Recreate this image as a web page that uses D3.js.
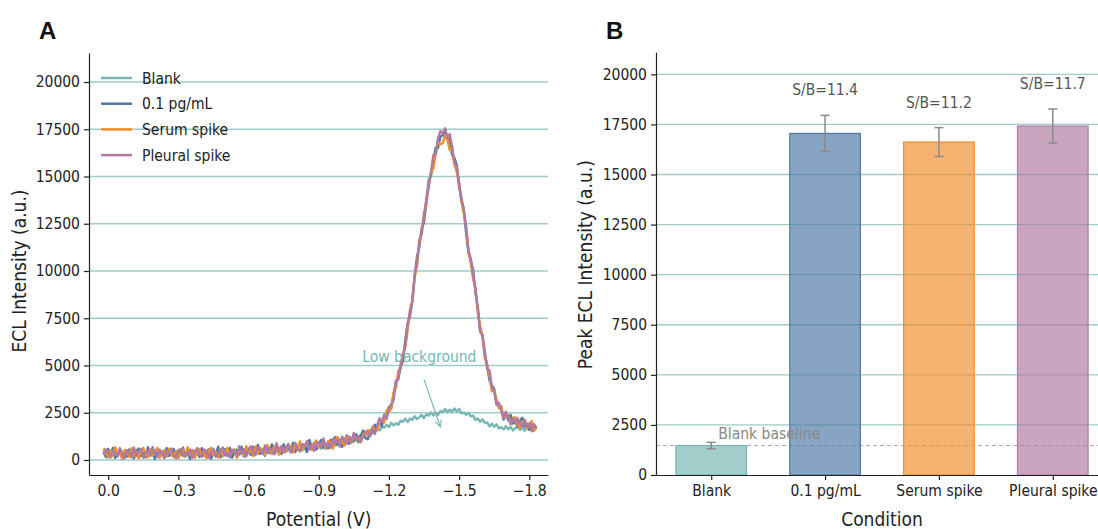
<!DOCTYPE html>
<html lang="en">
<head>
<meta charset="UTF-8">
<title>ECL peaks</title>
<style>
    body { margin: 0; background: #fff; }
    text { font-family: "DejaVu Sans Condensed", "DejaVu Sans", sans-serif; fill: #222; }
    .tick text { font-size: 15.5px; }
    .domain, .tick line { stroke: #222; stroke-width: 1.2px; }
    .grid { stroke: #76b7b2; stroke-width: 1.3px; stroke-opacity: 0.7; }
    .panel-letter { font-family: "Liberation Sans", Arial, sans-serif; font-weight: bold; font-size: 24px; fill: #111; }
    .axis-label { font-size: 19px; }
    .small { font-size: 15.5px; }
</style>
</head>
<body>
<svg id="chart" width="1098" height="529"></svg>
<script src="https://cdn.jsdelivr.net/npm/d3@7"></script>
<script>
// ---- panel A: ECL vs potential ----
const potential = [0.02,0.01,0,-0.01,-0.02,-0.03,-0.04,-0.05,-0.06,-0.07,
  -0.08,-0.09,-0.1,-0.11,-0.12,-0.13,-0.14,-0.15,-0.16,-0.17,
  -0.18,-0.19,-0.2,-0.21,-0.22,-0.23,-0.24,-0.25,-0.26,-0.27,
  -0.28,-0.29,-0.3,-0.31,-0.32,-0.33,-0.34,-0.35,-0.36,-0.37,
  -0.38,-0.39,-0.4,-0.41,-0.42,-0.43,-0.44,-0.45,-0.46,-0.47,
  -0.48,-0.49,-0.5,-0.51,-0.52,-0.53,-0.54,-0.55,-0.56,-0.57,
  -0.58,-0.59,-0.6,-0.61,-0.62,-0.63,-0.64,-0.65,-0.66,-0.67,
  -0.68,-0.69,-0.7,-0.71,-0.72,-0.73,-0.74,-0.75,-0.76,-0.77,
  -0.78,-0.79,-0.8,-0.81,-0.82,-0.83,-0.84,-0.85,-0.86,-0.87,
  -0.88,-0.89,-0.9,-0.91,-0.92,-0.93,-0.94,-0.95,-0.96,-0.97,
  -0.98,-0.99,-1,-1.01,-1.02,-1.03,-1.04,-1.05,-1.06,-1.07,
  -1.08,-1.09,-1.1,-1.11,-1.12,-1.13,-1.14,-1.15,-1.16,-1.17,
  -1.18,-1.19,-1.2,-1.21,-1.22,-1.23,-1.24,-1.25,-1.26,-1.27,
  -1.28,-1.29,-1.3,-1.31,-1.32,-1.33,-1.34,-1.35,-1.36,-1.37,
  -1.38,-1.39,-1.4,-1.41,-1.42,-1.43,-1.44,-1.45,-1.46,-1.47,
  -1.48,-1.49,-1.5,-1.51,-1.52,-1.53,-1.54,-1.55,-1.56,-1.57,
  -1.58,-1.59,-1.6,-1.61,-1.62,-1.63,-1.64,-1.65,-1.66,-1.67,
  -1.68,-1.69,-1.7,-1.71,-1.72,-1.73,-1.74,-1.75,-1.76,-1.77,
  -1.78,-1.79,-1.8,-1.81,-1.82,-1.83];

const blankTrace = [380,240,410,200,330,420,210,350,270,400,
  180,370,260,390,220,320,410,230,340,190,
  360,280,400,210,430,250,310,180,380,260,
  390,200,340,420,230,290,400,220,360,170,
  320,410,240,370,200,350,270,420,210,330,
  230,400,260,388,206,384,312,470,268,366,
  454,312,500,288,437,375,524,332,501,389,
  548,346,495,553,412,610,459,567,416,544,
  453,651,520,650,450,630,580,700,550,690,
  530,680,770,590,700,660,820,640,830,770,
  920,760,880,770,1010,930,1110,960,1150,1140,
  1320,1210,1420,1320,1500,1630,1520,1680,1570,1770,
  1710,1870,1730,1970,1830,1940,1860,2080,2020,2180,
  2010,2190,2130,2320,2170,2270,2380,2210,2420,2350,
  2510,2360,2510,2380,2590,2540,2700,2540,2660,2540,
  2730,2570,2710,2460,2520,2390,2500,2310,2350,2110,
  2200,2020,2150,1960,1990,1780,1920,1760,1890,1670,
  1750,1610,1790,1630,1750,1560,1690,1750,1600,1690,
  1550,1720,1610,1740,1560,1670];

const pg01Trace = [450,150,590,240,640,110,370,510,70,420,
  190,560,300,80,480,610,210,390,130,670,
  250,470,60,540,290,430,140,630,220,350,
  580,100,500,270,650,180,410,50,520,310,
  440,160,620,230,360,570,70,460,280,700,
  140,390,570,225,640,125,460,540,315,705,
  190,460,610,268,696,414,802,340,538,226,
  684,402,830,332,634,546,318,830,512,734,
  456,908,420,714,888,552,696,420,1064,678,
  902,556,850,1059,648,857,606,1065,794,1213,
  792,1081,690,1036,1292,858,1164,1040,1364,938,
  1312,1556,1160,1097,1563,1420,1870,1600,2000,1790,
  2400,2270,2810,2730,3460,4140,4280,4920,5220,6350,
  7230,7600,8400,9730,10760,11240,12280,12560,13690,14800,
  15060,15850,16520,16510,17120,17170,17530,16990,16970,16150,
  15980,15600,14440,13840,13210,12010,10970,10540,10060,8830,
  8090,6820,6620,5560,5010,4200,3970,3750,2970,2820,
  2780,2140,2400,2100,2390,1930,2060,1740,2080,2240,
  1760,1920,1600,2010,1670,1800];

const serumTrace = [610,370,120,500,230,680,270,450,90,530,
  360,160,620,210,410,70,490,650,280,140,
  570,240,440,630,110,380,520,190,600,300,
  150,460,80,390,540,220,670,260,480,100,
  420,590,170,350,90,510,640,250,450,130,
  580,200,330,645,170,435,570,110,525,425,
  250,730,360,528,206,714,342,640,508,276,
  794,472,330,742,614,286,698,610,442,864,
  606,388,810,544,988,502,746,940,664,528,
  862,1036,650,739,1008,587,996,935,604,1013,
  1212,871,990,776,1232,1128,904,1390,1034,1168,
  942,1396,1340,1577,1253,1780,1530,1570,2040,2100,
  1990,2620,2520,2760,3590,3810,4700,4860,5610,5950,
  6880,7940,8440,9680,10270,11450,12040,13080,13480,14530,
  15210,15430,16190,16820,16700,16760,17210,16940,16410,16470,
  15650,15230,14630,13650,13060,12400,11120,10420,9590,9080,
  7780,7090,6550,5410,5040,4430,3640,3690,3180,2740,
  2870,2260,2300,2370,1920,2150,2270,1890,1700,2030,
  2090,1690,1860,2060,1550,1740];

const pleuralTrace = [270,560,440,130,490,370,180,630,350,80,
  520,400,150,660,230,450,580,120,390,480,
  210,690,300,160,550,420,90,470,370,610,
  240,130,510,580,200,390,280,540,110,440,
  630,270,180,560,460,120,410,590,160,370,
  470,660,240,375,140,545,460,230,735,355,
  570,180,520,728,366,264,662,510,328,766,
  374,642,520,302,884,486,728,400,662,814,
  396,728,900,574,478,852,716,1000,574,788,
  482,946,870,699,1138,697,896,665,1124,863,
  1072,711,1240,1006,862,1238,964,1430,1054,1268,
  992,1256,1510,1467,1273,1650,1380,1840,2220,2010,
  2330,2170,2740,2960,3150,4200,4320,5070,5530,6060,
  7180,7820,8390,9790,10460,11650,11950,12900,13810,14410,
  15260,16130,16180,17030,17400,17280,17540,17050,17240,16590,
  15740,15520,14700,13740,13310,12250,11070,10640,9780,9080,
  7980,6790,6570,5730,4810,4740,3870,3660,2920,3030,
  2600,2250,2550,2260,1880,2240,1940,2210,1920,1780,
  2130,1760,1950,1520,1900,1710];

const traceNames = ["Blank", "0.1 pg/mL", "Serum spike", "Pleural spike"];
const traceColors = ["#76b7b2", "#4e79a7", "#f28e2b", "#b07aa1"];
const yTicksA = [0, 2500, 5000, 7500, 10000, 12500, 15000, 17500, 20000];
const xTicksA = [0, -0.3, -0.6, -0.9, -1.2, -1.5, -1.8];

// ---- panel B: peak intensities ----
const conditions = ["Blank", "0.1 pg/mL", "Serum spike", "Pleural spike"];
const peakMean = [1470, 17050, 16620, 17420];
const peakErr = [160, 900, 720, 850];
const sbLabels = [null, "S/B=11.4", "S/B=11.2", "S/B=11.7"];
const yTicksB = [0, 2500, 5000, 7500, 10000, 12500, 15000, 17500, 20000];

const svg = d3.select("#chart");

// ================= A =================
const xA = d3.scaleLinear().domain([0.082, -1.88]).range([89, 548]);
const yA = d3.scaleLinear().domain([-794, 21535]).range([475, 53]);

svg.append("text").attr("class", "panel-letter").attr("x", 39).attr("y", 39).text("A");

svg.append("g").selectAll("line").data(yTicksA).join("line")
    .attr("class", "grid")
    .attr("x1", 89).attr("x2", 548)
    .attr("y1", d => yA(d)).attr("y2", d => yA(d));

const traces = [blankTrace, pg01Trace, serumTrace, pleuralTrace];
const lineA = d3.line().x(d => xA(d[0])).y(d => yA(d[1]));
traces.forEach((tr, k) => {
    svg.append("path")
        .datum(potential.map((p, i) => [p, tr[i]]))
        .attr("d", lineA)
        .attr("fill", "none")
        .attr("stroke", traceColors[k])
        .attr("stroke-width", 2.4)
        .attr("stroke-linejoin", "round");
});

svg.append("g").attr("transform", "translate(0,475)")
    .call(d3.axisBottom(xA).tickValues(xTicksA).tickFormat(d3.format(".1f")).tickSize(5).tickSizeOuter(0).tickPadding(5));
svg.append("g").attr("transform", "translate(89,0)")
    .call(d3.axisLeft(yA).tickValues(yTicksA).tickFormat(d3.format("d")).tickSize(5).tickSizeOuter(0).tickPadding(4));

svg.append("text").attr("class", "axis-label")
    .attr("x", xA(-0.9)).attr("y", 526).attr("text-anchor", "middle").text("Potential (V)");
svg.append("text").attr("class", "axis-label")
    .attr("transform", `translate(26,${yA(10000)}) rotate(-90)`)
    .attr("text-anchor", "middle").text("ECL Intensity (a.u.)");

// legend
const leg = svg.append("g");
traceNames.forEach((n, i) => {
    const yy = 78 + i * 25.7;
    leg.append("line").attr("x1", 101).attr("x2", 132).attr("y1", yy).attr("y2", yy)
        .attr("stroke", traceColors[i]).attr("stroke-width", 2.5);
    leg.append("text").attr("class", "small").attr("x", 142).attr("y", yy + 5.5).text(n);
});

// annotation
svg.append("defs").append("marker")
    .attr("id", "arr").attr("viewBox", "0 0 10 10").attr("refX", 9).attr("refY", 5)
    .attr("markerWidth", 7).attr("markerHeight", 7).attr("orient", "auto")
    .append("path").attr("d", "M1,1 L9,5 L1,9").attr("fill", "none")
    .attr("stroke", "#76b7b2").attr("stroke-width", 1.3);
svg.append("line")
    .attr("x1", xA(-1.35)).attr("y1", yA(4250))
    .attr("x2", xA(-1.42)).attr("y2", yA(1750))
    .attr("stroke", "#76b7b2").attr("stroke-width", 1.2).attr("marker-end", "url(#arr)");
svg.append("text").attr("class", "small").attr("x", xA(-1.33)).attr("y", yA(5000) - 3).attr("text-anchor", "middle")
    .style("fill", "#76b7b2").text("Low background");

// ================= B =================
const xB = d3.scaleLinear().domain([-0.485, 3.485]).range([656, 1108]);
const yB = d3.scaleLinear().domain([0, 21100]).range([475, 52.3]);
const barW = 0.62;

svg.append("text").attr("class", "panel-letter").attr("x", 606).attr("y", 39).text("B");

svg.append("g").selectAll("line").data(yTicksB.slice(1)).join("line")
    .attr("class", "grid")
    .attr("x1", 656).attr("x2", 1108)
    .attr("y1", d => yB(d)).attr("y2", d => yB(d));

svg.append("line")
    .attr("x1", 656).attr("x2", 1108)
    .attr("y1", yB(peakMean[0])).attr("y2", yB(peakMean[0]))
    .attr("stroke", "#aaa").attr("stroke-width", 1.1).attr("stroke-dasharray", "4,3");

svg.append("g").selectAll("rect").data(conditions).join("rect")
    .attr("x", (d, i) => xB(i - barW / 2))
    .attr("width", (d, i) => xB(i + barW / 2) - xB(i - barW / 2))
    .attr("y", (d, i) => yB(peakMean[i]))
    .attr("height", (d, i) => yB(0) - yB(peakMean[i]))
    .attr("fill", (d, i) => traceColors[i]).attr("fill-opacity", 0.68)
    .attr("stroke", (d, i) => traceColors[i]).attr("stroke-width", 1.2);

// error bars
const eb = svg.append("g").attr("stroke", "#8a8a8a").attr("stroke-width", 1.5);
conditions.forEach((c, i) => {
    const cx = xB(i);
    eb.append("line").attr("x1", cx).attr("x2", cx)
        .attr("y1", yB(peakMean[i] - peakErr[i])).attr("y2", yB(peakMean[i] + peakErr[i]));
    [peakMean[i] - peakErr[i], peakMean[i] + peakErr[i]].forEach(v => {
        eb.append("line").attr("x1", cx - 4.5).attr("x2", cx + 4.5).attr("y1", yB(v)).attr("y2", yB(v));
    });
    if (sbLabels[i]) {
        svg.append("text").attr("class", "small").attr("x", cx).attr("y", yB(peakMean[i] + peakErr[i]) - 20)
            .attr("text-anchor", "middle").style("fill", "#555")
            .text(sbLabels[i]);
    }
});

svg.append("text").attr("class", "small").attr("x", xB(0) + 7).attr("y", yB(peakMean[0]) - 7)
    .style("fill", "#888").text("Blank baseline");

svg.append("g").attr("transform", "translate(0,475)")
    .call(d3.axisBottom(xB).tickValues([0, 1, 2, 3]).tickFormat(i => conditions[i]).tickSize(5).tickSizeOuter(0).tickPadding(5));
svg.append("g").attr("transform", "translate(656,0)")
    .call(d3.axisLeft(yB).tickValues(yTicksB).tickFormat(d3.format("d")).tickSize(5).tickSizeOuter(0).tickPadding(4));

svg.append("text").attr("class", "axis-label")
    .attr("x", xB(1.5)).attr("y", 526).attr("text-anchor", "middle").text("Condition");
svg.append("text").attr("class", "axis-label")
    .attr("transform", `translate(592,${yB(10500)}) rotate(-90)`)
    .attr("text-anchor", "middle").text("Peak ECL Intensity (a.u.)");
</script>
</body>
</html>
